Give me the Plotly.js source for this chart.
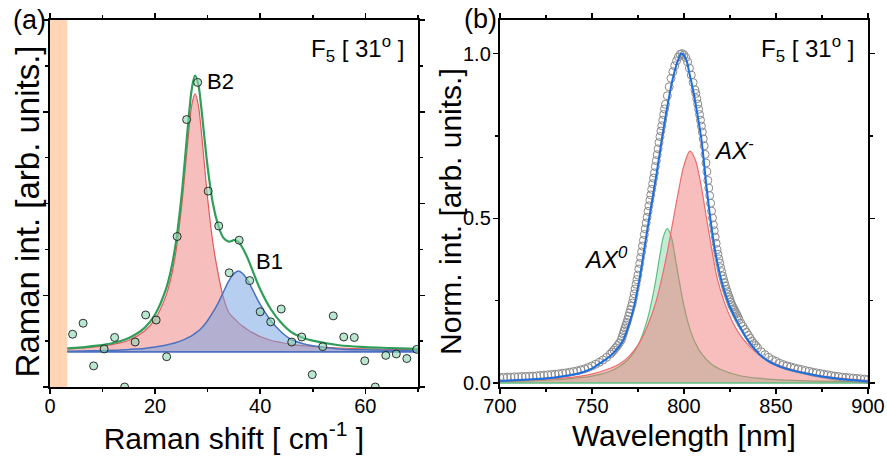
<!DOCTYPE html>
<html>
<head>
<meta charset="utf-8">
<script src="https://cdn.plot.ly/plotly-3.0.1.min.js"></script>
<style>
  html, body { margin: 0; padding: 0; background: #fff; }
  #chart { width: 887px; height: 459px; }
</style>
</head>
<body>
<div id="chart"></div>
<script>
// ---------- (a) low-frequency Raman spectrum ----------
const ramanShift = [4.3, 6.3, 8.3, 10.3, 12.3, 14.2, 16.2, 18.2, 20.2, 22.2, 24.2, 26.0, 28.1, 30.1, 32.1, 34.1, 36.0,
  38.0, 40.0, 42.0, 44.0, 46.0, 47.9, 49.9, 51.9, 53.9, 55.9, 57.9, 59.9, 61.9, 63.9, 65.9, 67.9, 69.8];
const ramanInt = [1.15, 1.39, 0.46, 0.83, 1.08, 0.0, 0.98, 1.57, 1.46, 0.66, 3.28, 5.83, 6.64, 4.27, 3.51, 2.49, 3.20,
  2.32, 1.64, 1.42, 1.70, 0.98, 1.09, 0.27, 0.88, 1.55, 1.09, 1.08, 0.57, 0.0, 0.69, 0.72, 0.62, 0.82];

// fitted components (B2, B1) and their sum, on a common shift grid
const fitShift = [3.3, 6, 9, 12, 15, 18, 20, 22, 23, 24, 25, 26, 26.5, 27, 27.6, 28.2, 28.7, 29.2, 30, 31, 32, 33, 34,
  35, 35.8, 36.6, 37.6, 38.6, 40, 42, 44, 46, 48, 50, 55, 60, 65, 70];
const fitB2 = [0.83, 0.85, 0.88, 0.93, 1.02, 1.22, 1.48, 1.97, 2.37, 2.98, 3.89, 5.08, 5.68, 6.16, 6.39, 6.16, 5.68,
  5.08, 4.11, 3.14, 2.47, 1.95, 1.63, 1.50, 1.41, 1.33, 1.25, 1.18, 1.10, 1.02, 0.97, 0.93, 0.90, 0.88, 0.85, 0.83, 0.82, 0.81];
const fitB1 = [0.78, 0.785, 0.79, 0.80, 0.82, 0.84, 0.87, 0.91, 0.94, 0.97, 1.01, 1.06, 1.09, 1.12, 1.17, 1.22, 1.27,
  1.33, 1.45, 1.63, 1.83, 2.07, 2.31, 2.47, 2.53, 2.48, 2.33, 2.11, 1.80, 1.45, 1.20, 1.03, 0.95, 0.90, 0.83, 0.81, 0.80, 0.79];
const fitSum = [0.84, 0.865, 0.90, 0.96, 1.07, 1.29, 1.58, 2.11, 2.54, 3.18, 4.13, 5.37, 6.00, 6.51, 6.79, 6.61, 6.18,
  5.64, 4.79, 4.00, 3.53, 3.25, 3.17, 3.20, 3.17, 3.04, 2.81, 2.52, 2.13, 1.70, 1.40, 1.19, 1.08, 1.01, 0.91, 0.87, 0.85, 0.83];
const ramanBaseX = [3.3, 70];
const ramanBaseY = [0.77, 0.77];
const laserCutoff = 3.3;   // notch-filter region

// ---------- (b) photoluminescence spectrum ----------
const plWavelength = [
  700, 702, 704, 706, 708, 710, 712, 714, 716, 718, 720, 722, 724, 726, 728, 730, 732, 734, 736, 738,
  740, 742, 744, 746, 748, 750, 752, 754, 756, 758, 760,
  761, 762, 763, 764, 765, 766,
  766.5, 767, 767.5, 768, 768.5, 769, 769.5, 770, 770.5, 771, 771.5, 772, 772.5, 773, 773.5, 774, 774.5, 775,
  775.5, 776, 776.5, 777, 777.5, 778, 778.5, 779, 779.5, 780, 780.5, 781, 781.5, 782, 782.5, 783, 783.5, 784,
  784.5, 785, 785.5, 786, 786.5, 787, 787.5, 788, 788.5, 789, 789.5, 790,
  791, 792, 793, 794, 795, 796, 797, 798, 799, 800, 801, 802, 803, 804, 805, 806,
  806.5, 807, 807.5, 808, 808.5, 809, 809.5, 810, 810.5, 811, 811.5, 812, 812.5, 813, 813.5, 814, 814.5, 815,
  815.5, 816, 816.5, 817, 817.5, 818, 818.5, 819, 819.5, 820, 820.5, 821, 821.5, 822, 822.5, 823, 823.5, 824,
  824.5, 825, 825.5, 826, 826.5, 827, 827.5, 828, 828.5, 829, 829.5, 830,
  831, 832, 833, 834, 835, 836, 837, 838, 839, 840,
  842, 844, 846, 848, 850, 852, 854, 856, 858, 860, 862, 864, 866, 868, 870, 872, 874, 876, 878, 880,
  882, 884, 886, 888, 890, 892, 894, 896, 898, 900];
const plIntensity = [
  0.017, 0.017, 0.018, 0.018, 0.019, 0.019, 0.020, 0.020, 0.021, 0.021, 0.022, 0.023, 0.024, 0.025, 0.026, 0.027,
  0.028, 0.030, 0.031, 0.033, 0.035, 0.037, 0.040, 0.043, 0.047, 0.052, 0.057, 0.063, 0.070, 0.078, 0.088,
  0.094, 0.100, 0.107, 0.114, 0.122, 0.131,
  0.140, 0.149, 0.158, 0.167, 0.176, 0.184, 0.193, 0.203, 0.213, 0.223, 0.233, 0.243, 0.257, 0.271, 0.286, 0.300,
  0.314, 0.328, 0.346, 0.363, 0.381, 0.398, 0.416, 0.433, 0.451, 0.468, 0.486, 0.503, 0.521, 0.538, 0.555, 0.571,
  0.588, 0.605, 0.622, 0.638, 0.657, 0.675, 0.693, 0.711, 0.730, 0.748, 0.765, 0.781, 0.798, 0.815, 0.832, 0.846,
  0.872, 0.899, 0.925, 0.945, 0.963, 0.978, 0.990, 0.998, 1.000, 0.996, 0.988, 0.975, 0.956, 0.935, 0.912, 0.890,
  0.879, 0.863, 0.847, 0.831, 0.815, 0.798, 0.780, 0.762, 0.741, 0.720, 0.694, 0.668, 0.642, 0.615, 0.592, 0.569,
  0.546, 0.522, 0.501, 0.480, 0.462, 0.443, 0.424, 0.405, 0.391, 0.377, 0.364, 0.350, 0.338, 0.325, 0.315, 0.305,
  0.295, 0.285, 0.277, 0.269, 0.261, 0.253, 0.245, 0.237, 0.232, 0.226, 0.221, 0.215, 0.210, 0.204, 0.198, 0.192,
  0.181, 0.172, 0.163, 0.154, 0.145, 0.136, 0.127, 0.120, 0.114, 0.107,
  0.095, 0.086, 0.078, 0.071, 0.066, 0.060, 0.056, 0.052, 0.049, 0.046, 0.043, 0.041, 0.038, 0.036, 0.033, 0.031,
  0.029, 0.027, 0.025, 0.023, 0.021, 0.020, 0.018, 0.017, 0.016, 0.015, 0.014, 0.013, 0.012, 0.011];

// total fit
const fitWl = [700, 710, 720, 730, 740, 745, 750, 755, 760, 764, 767, 770, 773, 776, 779, 782, 785, 788, 791, 794,
  796.5, 798.7, 801, 803, 805.1, 807.5, 809.6, 812, 814.5, 817, 819.6, 822, 825, 830.4, 835.9, 841.3, 846, 852.2,
  860, 868.5, 876, 884, 892, 900];
const fitTotal = [0.007, 0.009, 0.012, 0.017, 0.026, 0.033, 0.044, 0.062, 0.082, 0.105, 0.13, 0.175, 0.235, 0.32,
  0.425, 0.53, 0.63, 0.74, 0.84, 0.925, 0.975, 1.0, 0.985, 0.94, 0.887, 0.81, 0.736, 0.61, 0.494, 0.40, 0.328, 0.28,
  0.232, 0.171, 0.121, 0.086, 0.066, 0.05, 0.037, 0.027, 0.019, 0.013, 0.009, 0.005];

// trion (AX-) component
const trionWl = [700, 720, 740, 750, 760, 765, 770, 775, 780, 785, 790, 794, 797, 800, 803.3, 806, 809, 812, 815, 818,
  822, 826, 830, 835, 841, 850, 860, 870, 880, 890, 900];
const trionInt = [0.004, 0.010, 0.018, 0.027, 0.045, 0.058, 0.080, 0.115, 0.17, 0.25, 0.37, 0.49, 0.58, 0.66, 0.704,
  0.68, 0.61, 0.51, 0.41, 0.32, 0.245, 0.19, 0.15, 0.115, 0.085, 0.058, 0.039, 0.026, 0.018, 0.012, 0.008];

// neutral exciton (AX0) component
const excitonWl = [700, 730, 750, 760, 765, 770, 775, 780, 784, 787, 789, 791, 793, 795, 797, 800, 803, 806, 810, 815,
  820, 830, 840, 860, 900];
const excitonInt = [0.004, 0.010, 0.021, 0.036, 0.050, 0.073, 0.113, 0.19, 0.29, 0.39, 0.447, 0.469, 0.447, 0.39,
  0.325, 0.235, 0.169, 0.124, 0.086, 0.057, 0.041, 0.023, 0.015, 0.008, 0.003];
const plBaseX = [700, 900];
const plBaseY = [0, 0];

const FONT = 'Liberation Sans, Arial, Helvetica, sans-serif';

const traces = [
  // (a)
  { x: ramanBaseX, y: ramanBaseY, xaxis: 'x', yaxis: 'y', mode: 'lines',
    line: { color: '#4a72c0', width: 1.5 }, hoverinfo: 'skip' },
  { x: fitShift, y: fitB2, xaxis: 'x', yaxis: 'y', mode: 'lines', fill: 'tonexty',
    fillcolor: 'rgba(238,110,110,0.45)', line: { color: '#e05a5a', width: 1.2, shape: 'spline' } },
  { x: ramanBaseX, y: ramanBaseY, xaxis: 'x', yaxis: 'y', mode: 'lines',
    line: { color: '#4a72c0', width: 1.5 }, hoverinfo: 'skip' },
  { x: fitShift, y: fitB1, xaxis: 'x', yaxis: 'y', mode: 'lines', fill: 'tonexty',
    fillcolor: 'rgba(110,160,225,0.5)', line: { color: '#4a72c0', width: 1.5, shape: 'spline' } },
  { x: fitShift, y: fitSum, xaxis: 'x', yaxis: 'y', mode: 'lines',
    line: { color: '#2e9e58', width: 2.2, shape: 'spline' } },
  { x: ramanShift, y: ramanInt, xaxis: 'x', yaxis: 'y', mode: 'markers',
    marker: { symbol: 'circle', size: 8, color: 'rgba(140,215,175,0.6)', line: { color: '#1a1a1a', width: 0.9 } } },

  // (b)
  { x: excitonWl, y: excitonInt, xaxis: 'x2', yaxis: 'y2', mode: 'lines', fill: 'tozeroy',
    fillcolor: 'rgba(110,205,150,0.4)', line: { color: '#5cbf80', width: 1.2, shape: 'spline' } },
  { x: trionWl, y: trionInt, xaxis: 'x2', yaxis: 'y2', mode: 'lines', fill: 'tozeroy',
    fillcolor: 'rgba(240,110,110,0.45)', line: { color: '#ee6c6c', width: 1.2, shape: 'spline' } },
  { x: plBaseX, y: plBaseY, xaxis: 'x2', yaxis: 'y2', mode: 'lines',
    line: { color: '#5cbf80', width: 1.5 }, hoverinfo: 'skip' },
  { x: plWavelength, y: plIntensity, xaxis: 'x2', yaxis: 'y2', mode: 'markers',
    marker: { symbol: 'circle-open', size: 8, color: '#8a8a8a', line: { width: 1 } } },
  { x: fitWl, y: fitTotal, xaxis: 'x2', yaxis: 'y2', mode: 'lines',
    line: { color: '#1c6fe0', width: 2, shape: 'spline' } }
];

const frame = {
  showline: true, linecolor: '#000', linewidth: 2, mirror: 'allticks',
  ticks: 'outside', ticklen: 5, tickwidth: 1.5, tickcolor: '#000',
  showgrid: false, zeroline: false,
  tickfont: { family: FONT, size: 20, color: '#000' }
};

const layout = {
  width: 887, height: 459,
  margin: { l: 50, r: 19, t: 20, b: 72, pad: 0 },
  paper_bgcolor: '#fff', plot_bgcolor: '#fff',
  showlegend: false,
  font: { family: FONT, color: '#000' },
  xaxis: Object.assign({}, frame, {
    domain: [0, 0.4497], range: [0, 70], tick0: 0, dtick: 20, ticklabelstandoff: -5,
    minor: { dtick: 10, ticks: 'outside', ticklen: 3, tickwidth: 1.5, tickcolor: '#000' },
    title: { text: 'Raman shift [ cm<sup>-1</sup> ]', font: { family: FONT, size: 30 }, standoff: 9 }
  }),
  yaxis: Object.assign({}, frame, {
    domain: [0, 1], range: [0, 8], tick0: 0, dtick: 2, showticklabels: false,
    minor: { dtick: 1, ticks: 'outside', ticklen: 3, tickwidth: 1.5, tickcolor: '#000' }
  }),
  xaxis2: Object.assign({}, frame, {
    domain: [0.5499, 1], anchor: 'y2', range: [700, 900], tick0: 700, dtick: 50, ticklabelstandoff: -5,
    minor: { dtick: 25, ticks: 'outside', ticklen: 3, tickwidth: 1.5, tickcolor: '#000' },
    title: { text: 'Wavelength [nm]', font: { family: FONT, size: 30 }, standoff: 9 }
  }),
  yaxis2: Object.assign({}, frame, {
    domain: [0, 1], anchor: 'x2', range: [-0.012, 1.102], tick0: 0, dtick: 0.5, tickformat: '.1f',
    ticklabelstandoff: -2,
    minor: { dtick: 0.25, ticks: 'outside', ticklen: 3, tickwidth: 1.5, tickcolor: '#000' }
  }),
  shapes: [
    { type: 'rect', xref: 'x', yref: 'y domain', x0: 0, x1: laserCutoff, y0: 0, y1: 1,
      fillcolor: '#ffd5b5', line: { width: 0 }, layer: 'below' }
  ],
  annotations: [
    { text: 'Raman int. [arb. units.]', textangle: -90, xref: 'paper', yref: 'paper', x: -0.0275, y: 0.477,
      xanchor: 'center', yanchor: 'middle', showarrow: false, font: { family: FONT, size: 33 } },
    { text: 'Norm. int. [arb. units.]', textangle: -90, xref: 'paper', yref: 'paper', x: 0.4902, y: 0.4796,
      xanchor: 'center', yanchor: 'middle', showarrow: false, font: { family: FONT, size: 30 } },
    { text: '(a)', xref: 'paper', yref: 'paper', x: -0.0255, y: 1.0, xanchor: 'center', yanchor: 'middle',
      showarrow: false, font: { family: FONT, size: 27 } },
    { text: '(b)', xref: 'paper', yref: 'paper', x: 0.5257, y: 1.004, xanchor: 'center', yanchor: 'middle',
      showarrow: false, font: { family: FONT, size: 27 } },
    { text: 'F<sub>5</sub> [ 31<sup>o</sup> ]', xref: 'x domain', yref: 'y domain', x: 0.967, y: 0.92,
      xanchor: 'right', yanchor: 'middle', showarrow: false, font: { family: FONT, size: 24 } },
    { text: 'F<sub>5</sub> [ 31<sup>o</sup> ]', xref: 'x2 domain', yref: 'y2 domain', x: 0.967, y: 0.92,
      xanchor: 'right', yanchor: 'middle', showarrow: false, font: { family: FONT, size: 24 } },
    { text: 'B2', xref: 'x', yref: 'y', x: 29.4, y: 6.65, xanchor: 'left', yanchor: 'middle',
      showarrow: false, font: { family: FONT, size: 22 } },
    { text: 'B1', xref: 'x', yref: 'y', x: 38.9, y: 2.73, xanchor: 'left', yanchor: 'middle',
      showarrow: false, font: { family: FONT, size: 22 } },
    { text: '<i>AX<sup>-</sup></i>', xref: 'x2', yref: 'y2', x: 815, y: 0.71, xanchor: 'left', yanchor: 'middle',
      showarrow: false, font: { family: FONT, size: 24 } },
    { text: '<i>AX<sup>0</sup></i>', xref: 'x2', yref: 'y2', x: 744.5, y: 0.38, xanchor: 'left', yanchor: 'middle',
      showarrow: false, font: { family: FONT, size: 24 } }
  ]
};

Plotly.newPlot('chart', traces, layout, { staticPlot: true, displayModeBar: false });
</script>
</body>
</html>
